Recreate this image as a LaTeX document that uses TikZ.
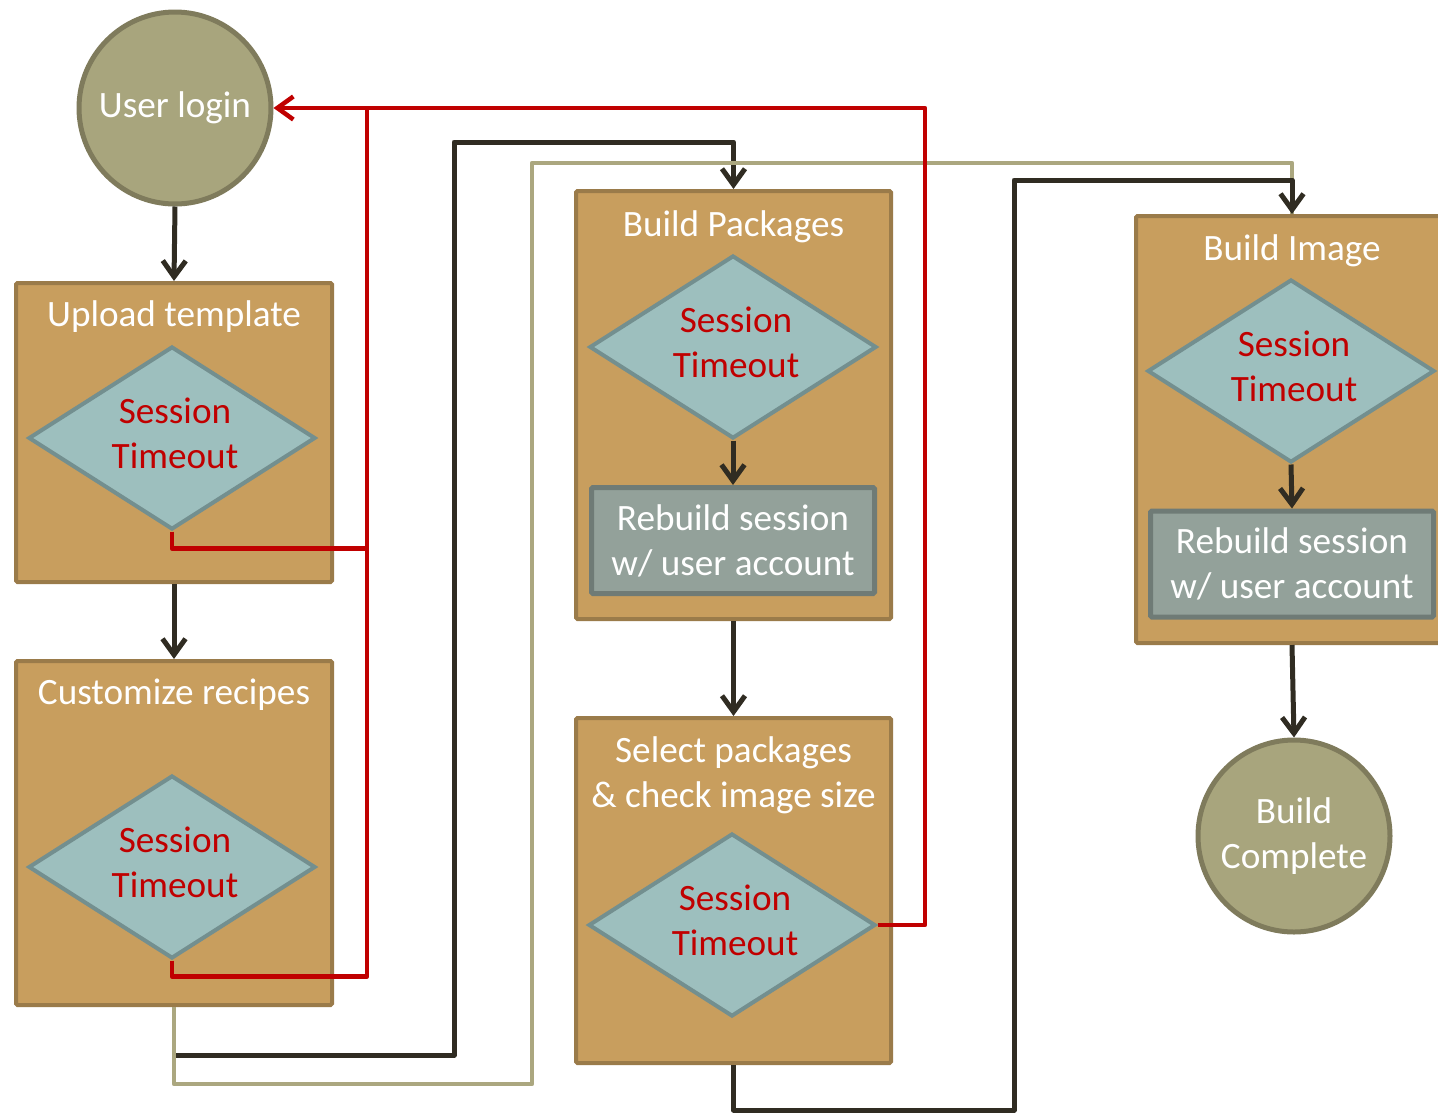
\documentclass[tikz,border=0pt]{standalone}
\usepackage{fontspec}
\setmainfont{Carlito}
\usetikzlibrary{shapes.geometric,arrows.meta}

\definecolor{boxfill}{HTML}{C89E5E}
\definecolor{boxline}{HTML}{9A7B4A}
\definecolor{dfill}{HTML}{9DBFBE}
\definecolor{dline}{HTML}{738F8F}
\definecolor{cfill}{HTML}{A8A57D}
\definecolor{cline}{HTML}{7F7B5C}
\definecolor{rfill}{HTML}{93A19A}
\definecolor{rline}{HTML}{6F7B76}
\definecolor{darkln}{HTML}{302C22}
\definecolor{oliveln}{HTML}{ABA77F}
\definecolor{redln}{HTML}{C00000}

\begin{document}
\begin{tikzpicture}[x=1pt,y=-1pt,
  every node/.style={font=\fontsize{37.2}{45}\selectfont, align=center},
  tip/.style={-{Straight Barb[length=16pt,width=23pt]}},
  stage/.style={draw=boxline, fill=boxfill, line width=4pt, rounded corners=1.5pt, inner sep=0pt},
  title/.style={text=white},
  check/.style={shape=diamond, draw=dline, fill=dfill, line width=4pt, inner sep=0pt,
    minimum width=287pt, minimum height=183pt},
  checktext/.style={text=redln},
  rebuild/.style={draw=rline, fill=rfill, line width=5pt, rounded corners=1.5pt, inner sep=0pt,
    minimum width=283pt, minimum height=106pt, text=white},
  endpoint/.style={shape=circle, draw=cline, fill=cfill, line width=5pt, inner sep=0pt,
    minimum size=192pt, text=white},
  flow/.style={draw=darkln, line width=5pt, line join=round},
  alt/.style={draw=oliveln, line width=4.5pt, line join=round},
  fail/.style={draw=redln, line width=4.5pt, line join=round}]

\useasboundingbox (0,0) rectangle (1438,1112);
\clip (0,0) rectangle (1438,1112);

% start and end points
\node[endpoint] (login) at (175,108) {User login};
\node[endpoint] (done) at (1294,836) {Build\\Complete};

% stage frames
\node[stage, minimum width=316pt, minimum height=299pt] (upl) at (174,432.5) {};
\node[stage, minimum width=316pt, minimum height=344pt] (cus) at (174,833) {};
\node[stage, minimum width=315pt, minimum height=428pt] (bp) at (733.5,405) {};
\node[stage, minimum width=315pt, minimum height=345pt] (sp) at (733.5,890.5) {};
\node[stage, minimum width=312pt, minimum height=427pt] (bi) at (1292,429.5) {};

% stage titles
\path (upl.north) ++(0,36) node[title] (uplt) {Upload template};
\path (cus.north) ++(0,36) node[title] (cust) {Customize recipes};
\path (bp.north) ++(0,38) node[title] (bpt) {Build Packages};
\path (sp.north) ++(0,59) node[title] (spt) {Select packages\\\& check image size};
\path (bi.north) ++(0,37) node[title] (bit) {Build Image};

% session timeout checks
\node[check] (d1) at (172,438) {};
\node[check] (d2) at (172,867) {};
\node[check] (d3) at (733,347) {};
\node[check] (d4) at (732,925) {};
\node[check] (d5) at (1291,371) {};
\foreach \d in {d1,d2,d3,d4,d5}
  \path (\d.center) ++(3,-5) node[checktext] (\d t) {Session\\Timeout};

% session rebuild steps
\node[rebuild] (rb1) at (733,540.5) {Rebuild session\\w/ user account};
\node[rebuild] (rb2) at (1292,564) {Rebuild session\\w/ user account};

% main flow
\draw[flow, tip] (login.south) -- (upl.north);
\draw[flow, tip] (upl.south) -- (cus.north);
\draw[flow, tip] (d3.south) -- (rb1.north);
\draw[flow, tip] (bp.south) -- (sp.north);
\draw[flow, tip] (d5.south) -- (rb2.north);
\draw[flow, tip] (bi.south) -- (done.north);

% routes from the recipe stage
\coordinate (bk1) at (454,142);
\coordinate (ol1) at (532,163);
\coordinate (bk2) at (1014,180);
\draw[flow, tip] (cus.south) ++(0,48) -| (bk1) -| (bp.north);
\draw[alt] (cus.south) -- ++(0,77) -| (ol1) -| (bi.north);
\draw[flow, tip] (sp.south) -- ++(0,45) -| (bk2) -| (bi.north);

% timeout returns to login
\coordinate (rt) at (367,108);
\coordinate (rx) at (925,108);
\draw[fail, tip] (d2.south) -- ++(0,16) -| (rt) -- (login.east);
\draw[fail] (d1.south) -- ++(0,17) coordinate (r1) -- (r1 -| rt);
\draw[fail] (d4.east) -| (rx) -- (rt);

\end{tikzpicture}
\end{document}
